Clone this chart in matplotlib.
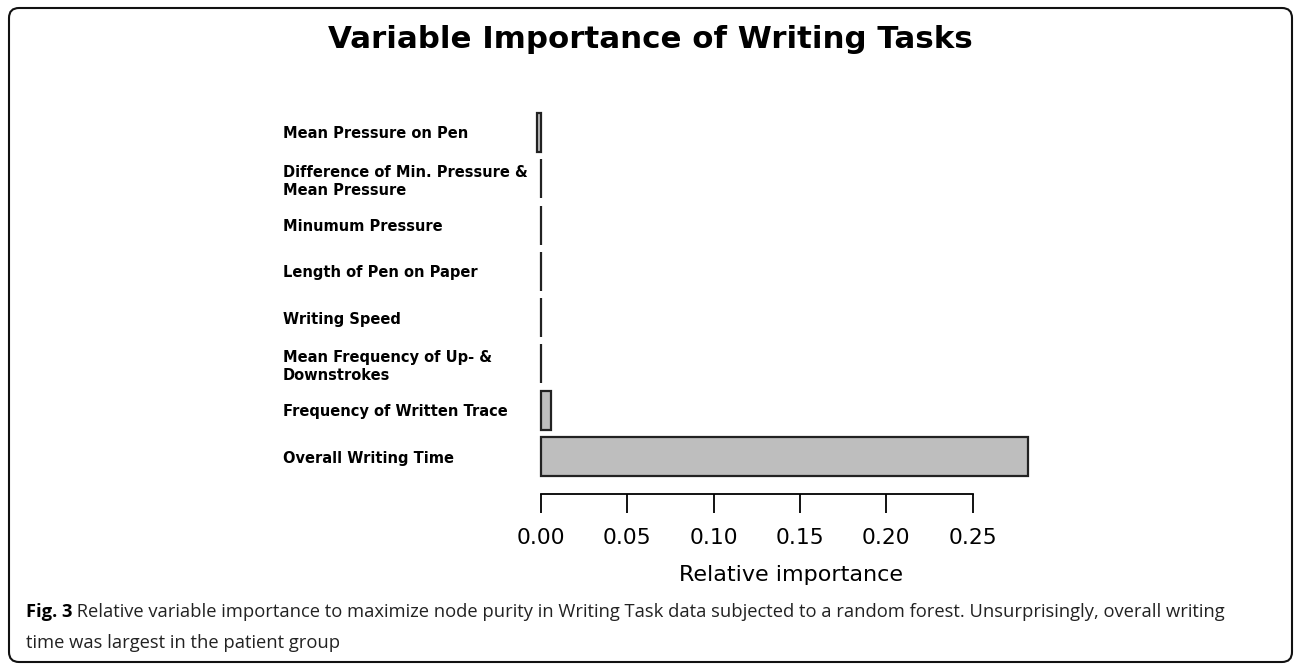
import matplotlib
matplotlib.use("Agg")
import matplotlib.pyplot as plt
from matplotlib.patches import FancyBboxPatch
from matplotlib.transforms import IdentityTransform
import numpy as np

# data (top to bottom)
features = ["Mean Pressure on Pen",
            "Difference of Min. Pressure &\nMean Pressure",
            "Minumum Pressure",
            "Length of Pen on Paper",
            "Writing Speed",
            "Mean Frequency of Up- &\nDownstrokes",
            "Frequency of Written Trace",
            "Overall Writing Time"]
importance = [-0.0022, 0.0, 0.0, 0.0, 0.0, 0.0, 0.0061, 0.282]
xticks = [0.00, 0.05, 0.10, 0.15, 0.20, 0.25]

title = "Variable Importance of Writing Tasks"
xlabel = "Relative importance"
cap_bold = "Fig. 3"
cap_line1 = " Relative variable importance to maximize node purity in Writing Task data subjected to a random forest. Unsurprisingly, overall writing"
cap_line2 = "time was largest in the patient group"

W, H = 1295, 665
fig = plt.figure(figsize=(W / 100, H / 100), dpi=100)

# axes placed in pixel terms
x0_px, px_per_unit = 540.7, 1728.0
xmin, xmax = -0.01, 0.30
ax_left = x0_px + xmin * px_per_unit
ax_w = (xmax - xmin) * px_per_unit
top_px, bot_px = 104.7, 484.3
ax = fig.add_axes([ax_left / W, 1 - bot_px / H, ax_w / W, (bot_px - top_px) / H])

y = np.arange(len(features))
ax.barh(y, importance, height=0.84, color="#bebebe", edgecolor="#222222", linewidth=1.6)
ax.set_xlim(xmin, xmax)
ax.set_ylim(len(features) - 0.4, -0.6)

for s in ["top", "right", "left"]:
    ax.spines[s].set_visible(False)
ax.spines["bottom"].set_position(("outward", 7))
ax.spines["bottom"].set_bounds(0, 0.25)
ax.spines["bottom"].set_linewidth(1.3)
ax.set_xticks(xticks)
ax.set_xticklabels(["%.2f" % t for t in xticks])
ax.tick_params(axis="x", length=13.5, width=1.3, pad=11, labelsize=15.7)
ax.set_xlabel(xlabel, fontsize=16, labelpad=12)

ax.set_yticks(y)
ax.set_yticklabels(features, fontsize=10.5, fontweight="bold")
ax.tick_params(axis="y", length=0, pad=(ax_left - 283) * 0.72)
for lab in ax.get_yticklabels():
    lab.set_horizontalalignment("left")

fig.text(650 / W, 1 - 39 / H, title, ha="center", va="center",
         fontsize=22.2, fontweight="bold")

# caption
t = fig.text(26 / W, 1 - 612 / H, cap_bold, ha="left", va="center",
             fontsize=13.2, fontweight="bold", family="Open Sans")
ax.annotate(cap_line1, xy=(1, 0.5), xycoords=t, ha="left", va="center",
            fontsize=13.2, family="Open Sans", color="#222222", annotation_clip=False)
fig.text(26 / W, 1 - 643 / H, cap_line2, ha="left", va="center",
         fontsize=13.2, family="Open Sans", color="#222222")

# rounded frame around everything
frame = FancyBboxPatch((9, H - 662), 1283, 654, boxstyle="round,pad=0,rounding_size=10",
                       transform=IdentityTransform(), fill=False,
                       edgecolor="#111111", linewidth=1.5)
fig.add_artist(frame)

fig.savefig("out.png", dpi=100)
